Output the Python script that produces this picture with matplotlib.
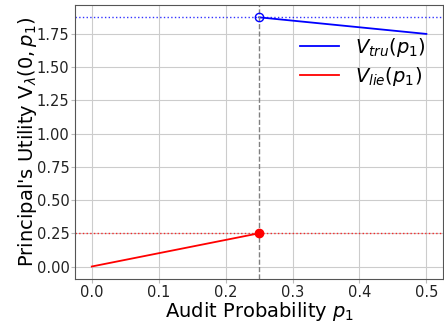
import matplotlib
matplotlib.use('Agg')
import matplotlib.pyplot as plt

# 数据
p_tru = [0.25, 0.5]
v_tru = [1.875, 1.75]
p_lie = [0.0, 0.25]
v_lie = [0.0, 0.25]
p_star = 0.25
y_tru_star = 1.875
y_lie_star = 0.25
x_ticks = [0.0, 0.1, 0.2, 0.3, 0.4, 0.5]
y_ticks = [0.0, 0.25, 0.5, 0.75, 1.0, 1.25, 1.5, 1.75]

fig = plt.figure(figsize=(4.44, 3.24), dpi=100)
ax = fig.add_axes([0.169, 0.139, 0.829, 0.846])

ax.grid(True, color='#cccccc', linewidth=0.8)
ax.set_axisbelow(True)

ax.plot(p_tru, v_tru, color='blue', linewidth=1.3, label=r'$V_{tru}(p_1)$')
ax.plot(p_lie, v_lie, color='red', linewidth=1.3, label=r'$V_{lie}(p_1)$')

ax.axhline(y_tru_star, color='blue', linestyle=':', linewidth=1, alpha=0.8)
ax.axhline(y_lie_star, color='red', linestyle=':', linewidth=1, alpha=0.8)
ax.axvline(p_star, color='gray', linestyle='--', linewidth=1)

ax.plot([p_star], [y_tru_star], 'o', markerfacecolor='none', markeredgecolor='blue', markersize=6)
ax.plot([p_star], [y_lie_star], 'o', color='red', markersize=6)

ax.set_xticks(x_ticks)
ax.set_yticks(y_ticks)
ax.tick_params(labelsize=10.5, labelcolor='#222222', color='#bbbbbb', length=3, pad=1)
for s in ax.spines.values():
    s.set_color('#555555')

ax.set_xlabel(r'Audit Probability $p_1$', fontsize=14, labelpad=0)
ax.set_ylabel(r"Principal's Utility V$_\lambda(0, p_1)$", fontsize=14, labelpad=-1.5)

ax.legend(loc='upper right', bbox_to_anchor=(1.0, 0.95), fontsize=14, frameon=False,
          labelspacing=0.3)

fig.savefig('out.png', dpi=100)
